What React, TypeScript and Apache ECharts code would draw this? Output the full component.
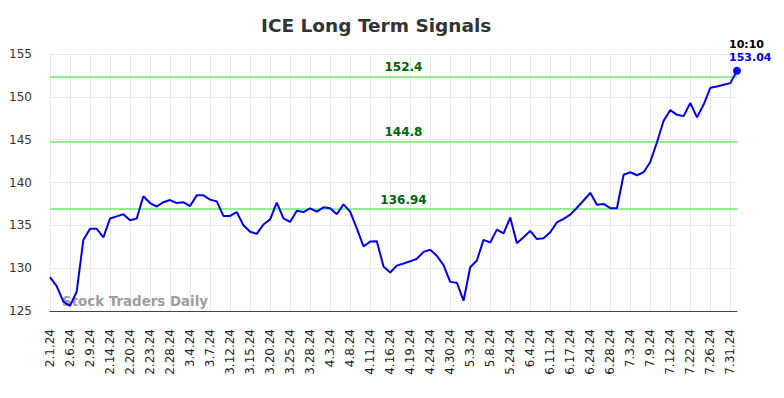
import React, { useEffect, useRef } from "react";
import * as echarts from "echarts";

const dates: string[] = [
  "2.1.24", "2.2.24", "2.5.24", "2.6.24", "2.7.24", "2.8.24", "2.9.24", "2.12.24", "2.13.24", "2.14.24",
  "2.15.24", "2.16.24", "2.20.24", "2.21.24", "2.22.24", "2.23.24", "2.26.24", "2.27.24", "2.28.24", "2.29.24",
  "3.1.24", "3.4.24", "3.5.24", "3.6.24", "3.7.24", "3.8.24", "3.11.24", "3.12.24", "3.13.24", "3.14.24",
  "3.15.24", "3.18.24", "3.19.24", "3.20.24", "3.21.24", "3.22.24", "3.25.24", "3.26.24", "3.27.24", "3.28.24",
  "4.1.24", "4.2.24", "4.3.24", "4.4.24", "4.5.24", "4.8.24", "4.9.24", "4.10.24", "4.11.24", "4.12.24",
  "4.15.24", "4.16.24", "4.17.24", "4.18.24", "4.19.24", "4.22.24", "4.23.24", "4.24.24", "4.25.24", "4.26.24",
  "4.30.24", "5.1.24", "5.2.24", "5.3.24", "5.6.24", "5.7.24", "5.8.24", "5.9.24", "5.10.24", "5.24.24",
  "5.28.24", "5.31.24", "6.4.24", "6.5.24", "6.6.24", "6.11.24", "6.12.24", "6.13.24", "6.17.24", "6.18.24",
  "6.20.24", "6.24.24", "6.25.24", "6.26.24", "6.28.24", "7.1.24", "7.2.24", "7.3.24", "7.5.24", "7.8.24",
  "7.9.24", "7.10.24", "7.11.24", "7.12.24", "7.15.24", "7.19.24", "7.22.24", "7.23.24", "7.25.24", "7.26.24",
  "7.29.24", "7.30.24", "7.31.24", "8.1.24",
];

const prices: number[] = [
  128.95, 127.9, 126.1, 125.6, 127.25, 133.3, 134.6, 134.6, 133.6, 135.8,
  136.05, 136.3, 135.6, 135.8, 138.4, 137.6, 137.2, 137.7, 137.95, 137.6,
  137.7, 137.25, 138.5, 138.5, 138.0, 137.8, 136.1, 136.1, 136.55, 135.0,
  134.25, 134.0, 135.1, 135.7, 137.65, 135.8, 135.4, 136.7, 136.55, 136.98,
  136.6, 137.1, 137.0, 136.3, 137.45, 136.6, 134.65, 132.55, 133.1, 133.15,
  130.2, 129.5, 130.3, 130.55, 130.8, 131.1, 131.9, 132.15, 131.45, 130.35,
  128.4, 128.3, 126.2, 130.1, 130.9, 133.3, 133.0, 134.5, 134.05, 135.9,
  132.9, 133.6, 134.35, 133.4, 133.5, 134.2, 135.35, 135.75, 136.25, 137.05,
  137.9, 138.8, 137.4, 137.5, 137.0, 137.0, 140.9, 141.2, 140.85, 141.2,
  142.4, 144.7, 147.2, 148.45, 147.9, 147.75, 149.3, 147.6, 149.1, 151.05,
  151.2, 151.4, 151.6, 153.04,
];

const signalLevels: number[] = [152.4, 144.8, 136.94];
const lastTime = "10:10";
const titleText = "ICE Long Term Signals";
const watermark = "Stock Traders Daily";

const FONT = "DejaVu Sans";

export default function App() {
  const ref = useRef<HTMLDivElement>(null);
  useEffect(() => {
    if (!ref.current) return;
    const chart = echarts.init(ref.current, undefined, { renderer: "svg" });
    const lastIdx = prices.length - 1;
    chart.setOption({
      animation: false,
      textStyle: { fontFamily: FONT },
      title: {
        text: titleText,
        left: 261,
        top: 16,
        padding: 0,
        textStyle: { fontFamily: FONT, fontSize: 18.5, fontWeight: "bold", color: "#333" },
      },
      grid: { left: 50, right: 47, top: 54, bottom: 87, containLabel: false },
      xAxis: {
        type: "category",
        data: dates,
        boundaryGap: false,
        axisLine: { show: true, lineStyle: { color: "#444", width: 1.2 } },
        axisTick: { show: false },
        axisLabel: {
          interval: 2,
          rotate: 90,
          margin: 18,
          fontSize: 12,
          color: "#222",
          fontFamily: FONT,
        },
        splitLine: { show: true, interval: 2, lineStyle: { color: "#e8e8e8", width: 1 } },
      },
      yAxis: {
        type: "value",
        min: 125,
        max: 155,
        interval: 5,
        axisLine: { show: false },
        axisTick: { show: false },
        axisLabel: { fontSize: 12, color: "#333", margin: 18, fontFamily: FONT },
        splitLine: { show: true, lineStyle: { color: "#e8e8e8", width: 1 } },
      },
      graphic: [
        {
          type: "text",
          left: 62,
          top: 295,
          z: 1,
          style: {
            text: watermark,
            fontFamily: FONT,
            fontSize: 13.4,
            fontWeight: "bold",
            fill: "rgba(140,140,140,0.85)",
          },
        },
      ],
      series: [
        {
          type: "line",
          data: prices,
          showSymbol: false,
          symbol: "none",
          lineStyle: { color: "#0000ee", width: 2 },
          z: 5,
          markLine: {
            silent: true,
            symbol: "none",
            lineStyle: { color: "#90ee90", width: 2, type: "solid" },
            label: {
              show: true,
              position: "middle",
              formatter: (p: any) => String(p.value),
              color: "#006400",
              fontWeight: "bold",
              fontSize: 12,
              fontFamily: FONT,
              distance: 3,
              offset: [10, 0],
            },
            data: signalLevels.map((v) => ({ yAxis: v })),
          },
          markPoint: {
            silent: true,
            data: [
              {
                coord: [lastIdx, prices[lastIdx]],
                symbol: "circle",
                symbolSize: 8,
                itemStyle: { color: "#0000ee" },
                label: {
                  show: true,
                  position: "top",
                  align: "left",
                  offset: [-8, -1],
                  distance: 2,
                  formatter: `{t|${lastTime}}\n{v|${prices[lastIdx].toFixed(2)}}`,
                  rich: {
                    t: { color: "#000", fontWeight: "bold", fontSize: 11, fontFamily: FONT, lineHeight: 13 },
                    v: { color: "#0000ee", fontWeight: "bold", fontSize: 11, fontFamily: FONT, lineHeight: 13 },
                  },
                },
              },
            ],
          },
        },
      ],
    });
    return () => chart.dispose();
  }, []);
  return (
    <div
      ref={ref}
      style={{ position: "absolute", left: 0, top: 0, width: 784, height: 398 }}
    />
  );
}
